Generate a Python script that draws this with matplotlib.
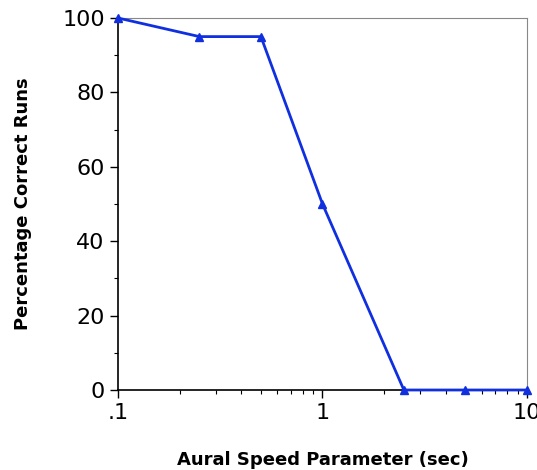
import matplotlib
matplotlib.use('Agg')
import matplotlib.pyplot as plt
from matplotlib.ticker import FixedLocator, FixedFormatter, LogLocator, NullFormatter, MultipleLocator

speed = [0.1, 0.25, 0.5, 1, 2.5, 5, 10]
pct_correct = [100, 95, 95, 50, 0, 0, 0]
xtick_vals = [0.1, 1, 10]
xtick_labels = ['.1', '1', '10']

fig = plt.figure(figsize=(5.37, 4.7), dpi=100)
ax = fig.add_axes([0.2197, 0.1702, 0.7617, 0.7915])

ax.plot(speed, pct_correct, color='#1030e0', lw=2, marker='^', ms=6, clip_on=False, zorder=3)

ax.set_xscale('log')
ax.set_xlim(0.1, 10)
ax.set_ylim(0, 100)
ax.xaxis.set_major_locator(FixedLocator(xtick_vals))
ax.xaxis.set_major_formatter(FixedFormatter(xtick_labels))
ax.xaxis.set_minor_locator(LogLocator(base=10, subs=range(2, 10)))
ax.xaxis.set_minor_formatter(NullFormatter())
ax.yaxis.set_major_locator(MultipleLocator(20))
ax.yaxis.set_minor_locator(MultipleLocator(10))

for s in ['top', 'right']:
    ax.spines[s].set_color('#888888')
    ax.spines[s].set_linewidth(0.8)
for s in ['left', 'bottom']:
    ax.spines[s].set_color('black')
    ax.spines[s].set_linewidth(1.2)

ax.tick_params(which='major', direction='out', length=6, width=1, labelsize=16, colors='black')
ax.tick_params(which='minor', direction='out', length=3, width=0.8)

ax.set_xlabel('Aural Speed Parameter (sec)', fontsize=13, fontweight='bold', labelpad=20)
ax.set_ylabel('Percentage Correct Runs', fontsize=13, fontweight='bold', labelpad=22)

fig.savefig('out.png', dpi=100)
